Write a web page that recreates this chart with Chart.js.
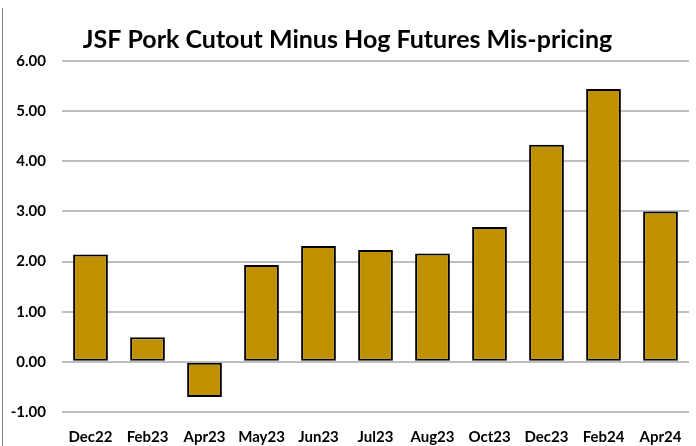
<!DOCTYPE html>
<html>
<head>
<meta charset="utf-8">
<script src="https://cdn.jsdelivr.net/npm/chart.js@4/dist/chart.umd.min.js"></script>
<style>
  html, body { margin: 0; padding: 0; background: #fff; }
  #wrap { position: relative; width: 696px; height: 446px; }
  #edge { position: absolute; left: 2px; top: 8px; width: 1px; height: 438px; background: #7f7f7f; }
</style>
</head>
<body>
<div id="wrap">
  <div id="edge"></div>
  <canvas id="grafico" width="696" height="446"></canvas>
</div>
<script>
// Dados do gráfico
const categorias = ['Dec22', 'Feb23', 'Apr23', 'May23', 'Jun23', 'Jul23', 'Aug23', 'Oct23', 'Dec23', 'Feb24', 'Apr24'];
const valores = [2.14, 0.49, -0.70, 1.93, 2.31, 2.23, 2.16, 2.69, 4.33, 5.44, 3.00];
const ticksY = [-1, 0, 1, 2, 3, 4, 5, 6];

const fonte = "Lato, 'Open Sans', sans-serif";

const ctx = document.getElementById('grafico').getContext('2d');
new Chart(ctx, {
    type: 'bar',
    data: {
        labels: categorias,
        datasets: [{
            data: valores,
            backgroundColor: '#BF9000',
            borderColor: '#000000',
            borderWidth: 2,
            borderSkipped: false,
            barPercentage: 0.61,
            categoryPercentage: 1.0
        }]
    },
    options: {
        responsive: false,
        animation: false,
        layout: { padding: { left: 6, right: 7, top: 10, bottom: 0 } },
        plugins: {
            legend: { display: false },
            tooltip: { enabled: false },
            title: {
                display: true,
                text: 'JSF Pork Cutout Minus Hog Futures Mis-pricing',
                color: '#000',
                font: { family: fonte, size: 25, weight: 'bold' },
                padding: { top: 15, bottom: 6 }
            }
        },
        scales: {
            x: {
                grid: { display: false },
                border: { display: false },
                afterFit: axis => { axis.height = 34; }, // altura fixa do eixo X
                ticks: {
                    color: '#000',
                    font: { family: fonte, size: 15, weight: 'bold' },
                    padding: 8,
                    maxRotation: 0,
                    autoSkip: false
                }
            },
            y: {
                min: ticksY[0],
                max: ticksY[ticksY.length - 1],
                afterBuildTicks: axis => { axis.ticks = ticksY.map(v => ({ value: v })); },
                afterFit: axis => { axis.width = 56; },
                grid: { color: '#bfbfbf', lineWidth: 2, drawTicks: false },
                border: { display: false },
                ticks: {
                    color: '#000',
                    font: { family: fonte, size: 15, weight: 'bold' },
                    padding: 16,
                    callback: v => Number(v).toFixed(2)
                }
            }
        }
    }
});
</script>
</body>
</html>
